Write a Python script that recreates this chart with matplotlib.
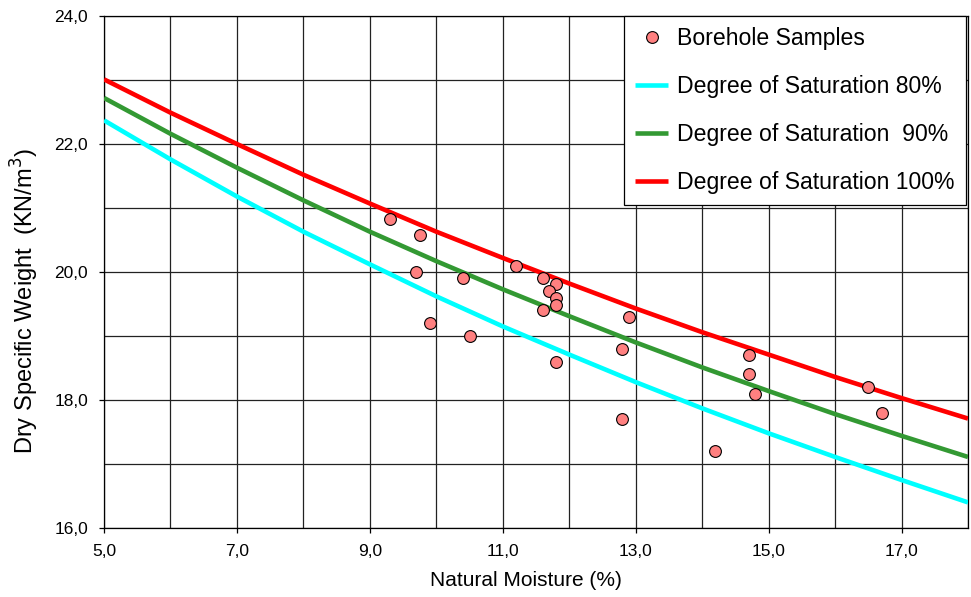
import matplotlib
matplotlib.use("Agg")
import matplotlib.pyplot as plt
from matplotlib.ticker import MultipleLocator, FixedLocator, FuncFormatter

plt.rcParams['font.family'] = ['Liberation Sans', 'DejaVu Sans']

# Borehole samples (natural moisture %, dry specific weight kN/m3)
sample_moisture = [9.3, 9.75, 9.7, 10.4, 9.9, 10.5, 11.2, 11.6, 11.8, 11.7, 11.8, 11.8,
                   11.6, 12.9, 12.8, 11.8, 12.8, 14.7, 14.7, 14.8, 14.2, 16.5, 16.7]
sample_weight = [20.83, 20.58, 20.0, 19.9, 19.2, 19.0, 20.1, 19.9, 19.82, 19.7, 19.6, 19.48,
                 19.4, 19.3, 18.8, 18.6, 17.7, 18.7, 18.4, 18.1, 17.2, 18.2, 17.8]

# Saturation curves read at integer moisture values
curve_moisture = [5, 6, 7, 8, 9, 10, 11, 12, 13, 14, 15, 16, 17, 18]
sat80 = [22.37, 21.76, 21.18, 20.63, 20.12, 19.62, 19.15, 18.71, 18.28, 17.87, 17.48, 17.11, 16.75, 16.40]
sat90 = [22.72, 22.16, 21.63, 21.12, 20.63, 20.17, 19.73, 19.31, 18.90, 18.51, 18.14, 17.78, 17.44, 17.11]
sat100 = [23.01, 22.49, 22.00, 21.52, 21.07, 20.63, 20.22, 19.82, 19.43, 19.06, 18.71, 18.36, 18.03, 17.71]

x_ticks = [5, 7, 9, 11, 13, 15, 17]
y_ticks = [16, 18, 20, 22, 24]

labels = ['Borehole Samples', 'Degree of Saturation 80%',
          'Degree of Saturation  90%', 'Degree of Saturation 100%']

fig = plt.figure(figsize=(9.71, 5.97), dpi=100)
ax = fig.add_axes([104/971, 1-528/597, 864/971, 512/597])

ax.plot(curve_moisture, sat80, color='#00FFFF', lw=3.3, label=labels[1], zorder=3, solid_capstyle='butt')
ax.plot(curve_moisture, sat90, color='#339933', lw=3.3, label=labels[2], zorder=3, solid_capstyle='butt')
ax.plot(curve_moisture, sat100, color='#FF0000', lw=3.3, label=labels[3], zorder=3, solid_capstyle='butt')
ax.plot(sample_moisture, sample_weight, linestyle='none', marker='o', ms=8.5,
        mfc='#FF8080', mec='black', mew=0.8, label=labels[0], zorder=4)

ax.set_xlim(5, 18)
ax.set_ylim(16, 24)
ax.xaxis.set_major_locator(FixedLocator(x_ticks))
ax.xaxis.set_minor_locator(MultipleLocator(1))
ax.yaxis.set_major_locator(FixedLocator(y_ticks))
ax.yaxis.set_minor_locator(MultipleLocator(1))
fmt = FuncFormatter(lambda v, p: f"{v:.1f}".replace('.', ','))
ax.xaxis.set_major_formatter(fmt)
ax.yaxis.set_major_formatter(fmt)
ax.tick_params(which='major', direction='out', length=3.6, width=0.9, pad=8, labelsize=12.5, color='black')
ax.tick_params(which='minor', length=0)
ax.grid(which='both', color='#222222', lw=0.9, zorder=1)
ax.set_axisbelow(True)
for s in ax.spines.values():
    s.set_color('black')
    s.set_linewidth(0.9)

ax.set_xlabel('Natural Moisture (%)', fontsize=15)
ax.xaxis.set_label_coords(0.488, -0.1016)
ax.xaxis.label.set_va('center')
ax.set_ylabel('Dry Specific Weight  (KN/m$^3$)', fontsize=17, va='center')
ax.yaxis.set_label_coords(-0.0914, 0.443)

h, l = ax.get_legend_handles_labels()
order = [3, 0, 1, 2]
leg = ax.legend([h[i] for i in order], [l[i] for i in order], loc='upper right',
                bbox_to_anchor=(0.9977, 1.0), borderaxespad=0, fontsize=16.6,
                frameon=True, fancybox=False, framealpha=1, edgecolor='black',
                numpoints=1, handlelength=1.45, handletextpad=0.4, labelspacing=1.08,
                borderpad=0.48)
leg.get_frame().set_linewidth(0.9)
leg.set_zorder(10)

fig.savefig('out.png', dpi=100)
